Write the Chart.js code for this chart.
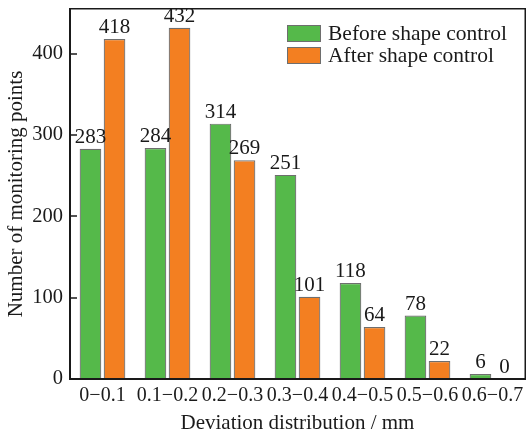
<!DOCTYPE html>
<html>
<head>
<meta charset="utf-8">
<script src="https://cdn.jsdelivr.net/npm/chart.js@4/dist/chart.umd.min.js"></script>
<style>
  html, body { margin: 0; padding: 0; background: #fff; }
  #wrap { width: 532px; height: 436px; }
</style>
</head>
<body>
<div id="wrap"><canvas id="c" width="532" height="436"></canvas></div>
<script>
const categories = ['0\u22120.1', '0.1\u22120.2', '0.2\u22120.3', '0.3\u22120.4', '0.4\u22120.5', '0.5\u22120.6', '0.6\u22120.7'];
const beforeControl = [283, 284, 314, 251, 118, 78, 6];
const afterControl = [418, 432, 269, 101, 64, 22, 0];
const yTicks = [0, 100, 200, 300, 400];
const seriesNames = ['Before shape control', 'After shape control'];

const FONT = 'Liberation Serif, Times New Roman, serif';
const INK = '#1a1a1a';

// Frame around the plot, inward tick marks, value labels and the legend box
const decorations = {
  id: 'decorations',
  afterDraw(chart) {
    const { ctx, chartArea: a, scales } = chart;
    const L = Math.round(a.left), R = Math.round(a.right);
    const T = Math.round(a.top), B = Math.round(a.bottom);
    ctx.save();
    // value labels above each bar
    ctx.font = '21px ' + FONT;
    ctx.fillStyle = INK;
    ctx.textAlign = 'center';
    ctx.textBaseline = 'bottom';
    chart.data.datasets.forEach((ds, i) => {
      chart.getDatasetMeta(i).data.forEach((bar, j) => {
        ctx.fillText(String(ds.data[j]), bar.x, bar.y - 1);
      });
    });
    // frame
    ctx.fillStyle = INK;
    ctx.fillRect(L - 1, T - 1, R - L + 2, 1.5);      // top
    ctx.fillRect(R - 0.5, T - 1, 1.5, B - T + 2);    // right
    ctx.fillRect(L - 1, T - 1, 2, B - T + 2);        // left axis
    ctx.fillRect(L - 1, B - 1, R - L + 2, 2);        // bottom axis
    // inward ticks on the value axis
    yTicks.forEach(v => {
      const y = Math.round(scales.y.getPixelForValue(v));
      ctx.fillRect(L, y - 0.75, 7, 1.5);
    });
    // legend
    const lx = R - 238, ly = T + 16;
    ctx.font = '21.5px ' + FONT;
    ctx.textAlign = 'left';
    ctx.textBaseline = 'middle';
    chart.data.datasets.forEach((ds, i) => {
      const y = ly + i * 22;
      ctx.fillStyle = ds.backgroundColor;
      ctx.fillRect(lx, y, 34, 17);
      ctx.strokeStyle = '#6e6e6e';
      ctx.lineWidth = 1;
      ctx.strokeRect(lx + 0.5, y + 0.5, 33, 16);
      ctx.fillStyle = INK;
      ctx.fillText(ds.label, lx + 41, y + 9);
    });
    ctx.restore();
  }
};

new Chart(document.getElementById('c'), {
  type: 'bar',
  data: {
    labels: categories,
    datasets: [
      { label: seriesNames[0], data: beforeControl, backgroundColor: '#55b94a', borderColor: '#6e6e6e', borderWidth: 1.2 },
      { label: seriesNames[1], data: afterControl, backgroundColor: '#f37f21', borderColor: '#6e6e6e', borderWidth: 1.2 }
    ]
  },
  options: {
    responsive: false,
    animation: false,
    devicePixelRatio: 1,
    layout: { padding: { left: 0, right: 7, top: 9, bottom: 0 } },
    datasets: { bar: { categoryPercentage: 0.74, barPercentage: 0.9 } },
    plugins: { legend: { display: false }, tooltip: { enabled: false } },
    scales: {
      x: {
        grid: { display: false, drawTicks: false },
        border: { display: false },
        ticks: { color: INK, font: { family: FONT, size: 20 }, padding: 5, maxRotation: 0, autoSkip: false },
        title: { display: true, text: 'Deviation distribution / mm', color: INK, font: { family: FONT, size: 21 }, padding: { top: 0, bottom: 0 } },
        afterFit(s) { s.height = 57; s.paddingLeft = 0; s.paddingRight = 0; }
      },
      y: {
        min: 0, max: 455,
        afterBuildTicks(s) { s.ticks = yTicks.map(v => ({ value: v })); },
        grid: { display: false, drawTicks: false },
        border: { display: false },
        ticks: { color: INK, font: { family: FONT, size: 20.5 }, padding: 7 },
        title: { display: true, text: 'Number of monitoring points', color: INK, font: { family: FONT, size: 21 }, padding: { top: 4, bottom: 0 } },
        afterFit(s) { s.width = 70; s.paddingTop = 0; s.paddingBottom = 0; }
      }
    }
  },
  plugins: [decorations]
});
</script>
</body>
</html>
